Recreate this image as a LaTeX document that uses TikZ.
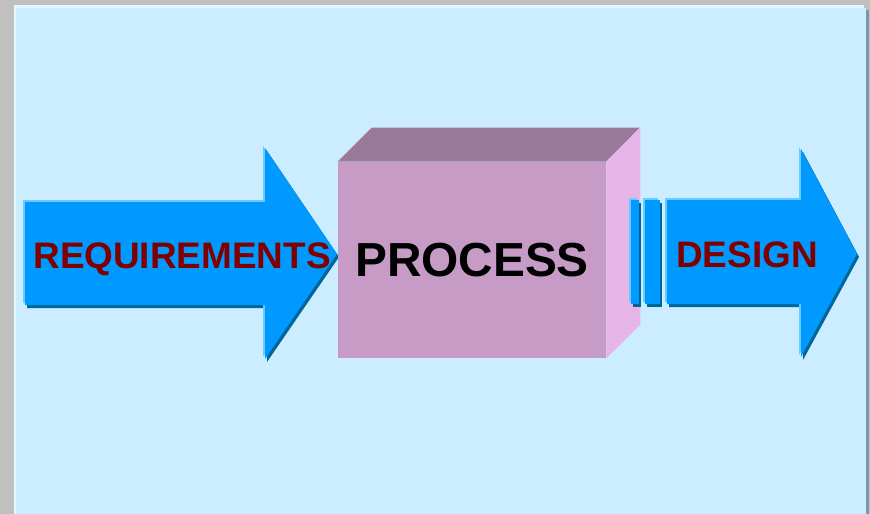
\documentclass[tikz,border=0pt]{standalone}
\usepackage{fontspec}
\setmainfont{Liberation Sans}
\usetikzlibrary{positioning}
\definecolor{pagegray}{HTML}{C0C0C0}
\definecolor{slidefill}{HTML}{CCECFF}
\definecolor{slidehi}{HTML}{E6F6FF}
\definecolor{slidelo}{HTML}{7D98A8}
\definecolor{flowblue}{HTML}{0099FF}
\definecolor{flowhi}{HTML}{66CCFF}
\definecolor{flowlo}{HTML}{006699}
\definecolor{boxfront}{HTML}{C69CC6}
\definecolor{boxtop}{HTML}{9A7A9A}
\definecolor{boxside}{HTML}{E6B4E6}
\definecolor{labelred}{HTML}{800000}

\begin{document}
\begin{tikzpicture}[x=0.02cm, y=-0.02cm, every node/.style={inner sep=0pt}, bevel/.style={fill=flowblue, preaction={fill=flowlo, transform canvas={shift={(2,3)}}}, preaction={fill=flowhi, transform canvas={shift={(-2,-2)}}}}, flowlabel/.style={anchor=base, text=labelred, font=\bfseries\fontsize{21}{24}\selectfont}, box/.style={fill=boxfront, minimum width=5.36cm, minimum height=3.92cm, font=\bfseries\fontsize{27.2}{30}\selectfont}]
\useasboundingbox (0,0) rectangle (870,514);
\fill[pagegray] (0,0) rectangle (870,514);
\fill[slidelo] (866,10) rectangle (869,514);
\fill[slidehi] (14,5) rectangle (864,514);
\fill[slidefill] (16,8) rectangle (866,514);
\path[bevel] (25,202) -- (265,202) -- (265,148) -- (337,254) -- (265,359) -- (265,305) -- (25,305) -- cycle;
\node[flowlabel] (requirements) at (182,268) {REQUIREMENTS};
\node[box] (process) at (472,260) {PROCESS};
\fill[boxtop] (process.north west) -- ++(34,-34) -- ++(268,0) -- (process.north east) -- cycle;
\fill[boxside] (process.north east) -- ++(34,-34) -- ++(0,197) -- (process.south east) -- cycle;
\path[bevel] (631,200) rectangle (639,304);
\path[bevel] (645,200) rectangle (660,304);
\path[bevel] (667,200) -- (801,200) -- (801,149) -- (857,254) -- (801,357) -- (801,304) -- (667,304) -- cycle;
\node[flowlabel] (design) at (747,267) {DESIGN};
\end{tikzpicture}
\end{document}
